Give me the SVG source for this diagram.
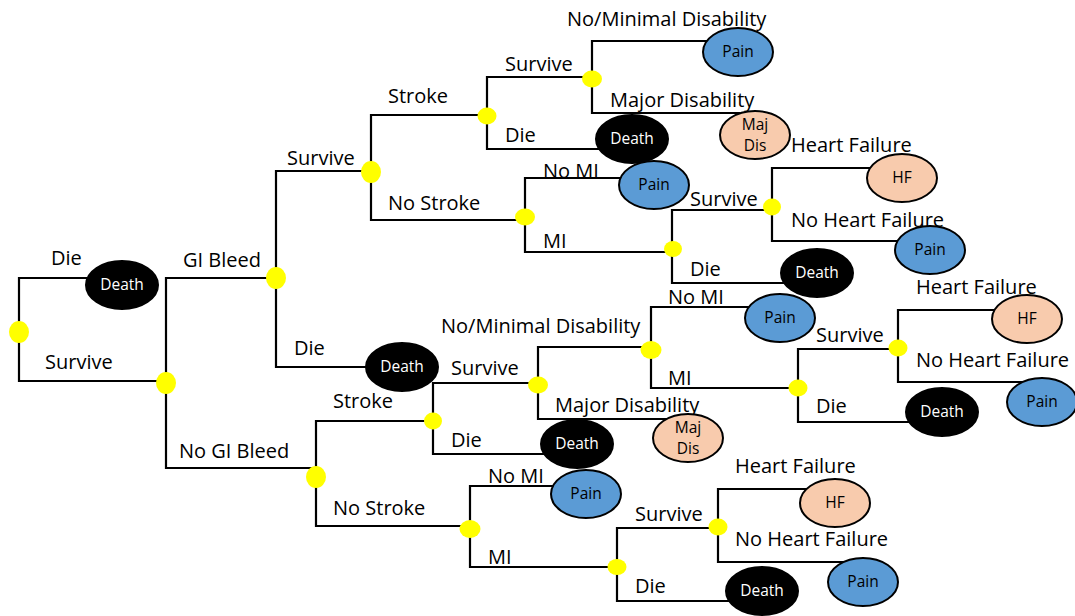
<svg xmlns="http://www.w3.org/2000/svg" width="1075" height="616" viewBox="0 0 1075 616">
<style>
.c{fill:none;stroke:#000;stroke-width:2.2;stroke-linejoin:miter}
.l{font-family:"Open Sans","Liberation Sans",sans-serif;font-size:20px;fill:#000}
.t{font-family:"Open Sans","Liberation Sans",sans-serif;font-size:15.5px;text-anchor:middle}
.death{fill:#000;stroke:#000;stroke-width:2}
.pain{fill:#5B9BD5;stroke:#000;stroke-width:2}
.peach{fill:#F8CBAD;stroke:#000;stroke-width:2}
.dot{fill:#FFFF00}
.w{fill:#fff}
.k{fill:#000}
</style>
<rect width="1075" height="616" fill="#fff"/>
<g id="connectors">
<path class="c" d="M110,278 H19 V381 H166"/>
<path class="c" d="M276,278 H166 V468 H316"/>
<path class="c" d="M371,171 H276 V367 H400"/>
<path class="c" d="M487,115 H371 V220 H525"/>
<path class="c" d="M592,77 H487 V149 H630"/>
<path class="c" d="M730,41 H592 V113 H740"/>
<path class="c" d="M650,178 H525 V252 H672"/>
<path class="c" d="M772,210 H672 V283 H815"/>
<path class="c" d="M895,168 H772 V241 H925"/>
<path class="c" d="M433,421 H316 V526 H470"/>
<path class="c" d="M538,383 H433 V454 H575"/>
<path class="c" d="M651,347 H538 V419 H680"/>
<path class="c" d="M775,307 H651 V388 H798"/>
<path class="c" d="M898,349 H798 V422 H940"/>
<path class="c" d="M1020,310 H898 V382 H1035"/>
<path class="c" d="M580,486 H470 V567 H617"/>
<path class="c" d="M718,528 H617 V601 H760"/>
<path class="c" d="M830,489 H718 V562 H860"/>
</g>
<g id="labels">
<text class="l" x="51" y="265">Die</text>
<text class="l" x="45" y="369">Survive</text>
<text class="l" x="183" y="267">GI Bleed</text>
<text class="l" x="179" y="458">No GI Bleed</text>
<text class="l" x="287" y="165">Survive</text>
<text class="l" x="294" y="355">Die</text>
<text class="l" x="388" y="103">Stroke</text>
<text class="l" x="388" y="210">No Stroke</text>
<text class="l" x="505" y="71">Survive</text>
<text class="l" x="505" y="142">Die</text>
<text class="l" x="567" y="26">No/Minimal Disability</text>
<text class="l" x="610" y="107">Major Disability</text>
<text class="l" x="543" y="178">No MI</text>
<text class="l" x="543" y="248">MI</text>
<text class="l" x="690" y="206">Survive</text>
<text class="l" x="690" y="276">Die</text>
<text class="l" x="791" y="152">Heart Failure</text>
<text class="l" x="791" y="227">No Heart Failure</text>
<text class="l" x="333" y="408">Stroke</text>
<text class="l" x="333" y="515">No Stroke</text>
<text class="l" x="451" y="375">Survive</text>
<text class="l" x="451" y="447">Die</text>
<text class="l" x="441" y="333">No/Minimal Disability</text>
<text class="l" x="555" y="412">Major Disability</text>
<text class="l" x="668" y="304">No MI</text>
<text class="l" x="668" y="385">MI</text>
<text class="l" x="816" y="342">Survive</text>
<text class="l" x="816" y="413">Die</text>
<text class="l" x="916" y="294">Heart Failure</text>
<text class="l" x="916" y="367">No Heart Failure</text>
<text class="l" x="488" y="483">No MI</text>
<text class="l" x="488" y="564">MI</text>
<text class="l" x="635" y="521">Survive</text>
<text class="l" x="635" y="593">Die</text>
<text class="l" x="735" y="473">Heart Failure</text>
<text class="l" x="735" y="546">No Heart Failure</text>
</g>
<g id="t-death-root"><ellipse class="death" cx="122" cy="285" rx="36" ry="24"/><text class="t w" x="122" y="290">Death</text></g>
<g id="t-death-gi"><ellipse class="death" cx="402" cy="367" rx="36" ry="24"/><text class="t w" x="402" y="372">Death</text></g>
<g id="t-pain-1"><ellipse class="pain" cx="738" cy="52" rx="35" ry="24"/><text class="t k" x="738" y="57">Pain</text></g>
<g id="t-majdis-1"><ellipse class="peach" cx="755" cy="135" rx="35" ry="24"/><text class="t k" x="755" y="130">Maj</text><text class="t k" x="755" y="151">Dis</text></g>
<g id="t-death-1"><ellipse class="death" cx="632" cy="139" rx="36" ry="24"/><text class="t w" x="632" y="144">Death</text></g>
<g id="t-pain-2"><ellipse class="pain" cx="654" cy="185" rx="35" ry="24"/><text class="t k" x="654" y="190">Pain</text></g>
<g id="t-death-2"><ellipse class="death" cx="817" cy="273" rx="36" ry="24"/><text class="t w" x="817" y="278">Death</text></g>
<g id="t-hf-1"><ellipse class="peach" cx="902" cy="178" rx="35" ry="24"/><text class="t k" x="902" y="183">HF</text></g>
<g id="t-pain-3"><ellipse class="pain" cx="930" cy="250" rx="35" ry="24"/><text class="t k" x="930" y="255">Pain</text></g>
<g id="t-death-3"><ellipse class="death" cx="577" cy="444" rx="36" ry="24"/><text class="t w" x="577" y="449">Death</text></g>
<g id="t-majdis-2"><ellipse class="peach" cx="688" cy="438" rx="35" ry="24"/><text class="t k" x="688" y="433">Maj</text><text class="t k" x="688" y="454">Dis</text></g>
<g id="t-pain-4"><ellipse class="pain" cx="780" cy="318" rx="35" ry="24"/><text class="t k" x="780" y="323">Pain</text></g>
<g id="t-hf-2"><ellipse class="peach" cx="1027" cy="319" rx="35" ry="24"/><text class="t k" x="1027" y="324">HF</text></g>
<g id="t-pain-5"><ellipse class="pain" cx="1042" cy="402" rx="35" ry="24"/><text class="t k" x="1042" y="407">Pain</text></g>
<g id="t-death-4"><ellipse class="death" cx="942" cy="412" rx="36" ry="24"/><text class="t w" x="942" y="417">Death</text></g>
<g id="t-pain-6"><ellipse class="pain" cx="586" cy="494" rx="35" ry="24"/><text class="t k" x="586" y="499">Pain</text></g>
<g id="t-hf-3"><ellipse class="peach" cx="835" cy="503" rx="35" ry="24"/><text class="t k" x="835" y="508">HF</text></g>
<g id="t-pain-7"><ellipse class="pain" cx="863" cy="582" rx="35" ry="24"/><text class="t k" x="863" y="587">Pain</text></g>
<g id="t-death-5"><ellipse class="death" cx="762" cy="591" rx="36" ry="24"/><text class="t w" x="762" y="596">Death</text></g>
<g id="c-root"><ellipse class="dot" cx="19" cy="332" rx="10" ry="11"/></g>
<g id="c-gi"><ellipse class="dot" cx="166" cy="383" rx="10" ry="11"/></g>
<g id="c-gibleed"><ellipse class="dot" cx="276" cy="278" rx="10" ry="11"/></g>
<g id="c-survive1"><ellipse class="dot" cx="371" cy="172" rx="10" ry="11"/></g>
<g id="c-stroke1"><ellipse class="dot" cx="487" cy="116" rx="9.5" ry="8.5"/></g>
<g id="c-disab1"><ellipse class="dot" cx="592" cy="79" rx="10" ry="8.5"/></g>
<g id="c-nostroke1"><ellipse class="dot" cx="525" cy="217" rx="10" ry="8.5"/></g>
<g id="c-mi1"><ellipse class="dot" cx="673" cy="249" rx="9" ry="8"/></g>
<g id="c-hf1"><ellipse class="dot" cx="772" cy="207" rx="9" ry="8.5"/></g>
<g id="c-nogi"><ellipse class="dot" cx="316" cy="477" rx="10" ry="11"/></g>
<g id="c-stroke2"><ellipse class="dot" cx="433" cy="421" rx="9" ry="8.5"/></g>
<g id="c-disab2"><ellipse class="dot" cx="538" cy="385" rx="10" ry="8.5"/></g>
<g id="c-mi2a"><ellipse class="dot" cx="651" cy="350" rx="10.5" ry="9"/></g>
<g id="c-mi2b"><ellipse class="dot" cx="798" cy="388" rx="9.5" ry="8.5"/></g>
<g id="c-hf2"><ellipse class="dot" cx="898" cy="348" rx="9.5" ry="8.5"/></g>
<g id="c-nostroke2"><ellipse class="dot" cx="470" cy="529" rx="10.5" ry="9"/></g>
<g id="c-mi3"><ellipse class="dot" cx="617" cy="567" rx="9.5" ry="8"/></g>
<g id="c-hf3"><ellipse class="dot" cx="718" cy="527" rx="9.5" ry="8.5"/></g>
</svg>
